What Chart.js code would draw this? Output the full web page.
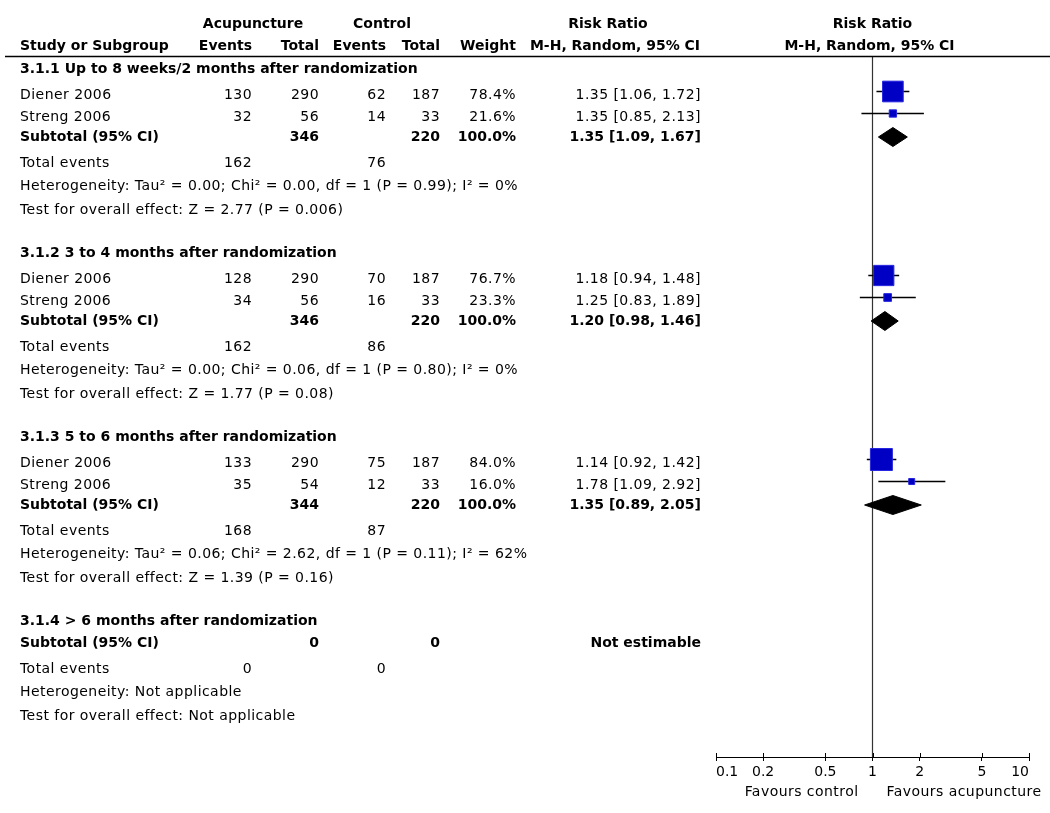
<!DOCTYPE html>
<html>
<head>
<meta charset="utf-8">
<title>Acupuncture vs control - Risk Ratio</title>
<script src="https://cdn.jsdelivr.net/npm/chart.js@4.4.1/dist/chart.umd.min.js"></script>
<style>
    html, body { margin: 0; padding: 0; background: #fff; }
    #wrap { width: 1050px; height: 813px; }
</style>
</head>
<body>
<div id="wrap"><canvas id="forest" width="1050" height="813"></canvas></div>
<script>
// Data
const groupTitles = [
    "3.1.1 Up to 8 weeks/2 months after randomization",
    "3.1.2 3 to 4 months after randomization",
    "3.1.3 5 to 6 months after randomization",
    "3.1.4 > 6 months after randomization"
];
const studyNames = [["Diener 2006", "Streng 2006"], ["Diener 2006", "Streng 2006"], ["Diener 2006", "Streng 2006"], []];
const acuEvents = [[130, 32], [128, 34], [133, 35], []];
const acuTotal = [[290, 56], [290, 56], [290, 54], []];
const ctrlEvents = [[62, 14], [70, 16], [75, 12], []];
const ctrlTotal = [[187, 33], [187, 33], [187, 33], []];
const weights = [[78.4, 21.6], [76.7, 23.3], [84.0, 16.0], []];
const rr = [[1.35, 1.35], [1.18, 1.25], [1.14, 1.78], []];
const ciLow = [[1.06, 0.85], [0.94, 0.83], [0.92, 1.09], []];
const ciHigh = [[1.72, 2.13], [1.48, 1.89], [1.42, 2.92], []];
const subRR = [1.35, 1.20, 1.35, null];
const subLow = [1.09, 0.98, 0.89, null];
const subHigh = [1.67, 1.46, 2.05, null];
const subAcuTotal = [346, 346, 344, 0];
const subCtrlTotal = [220, 220, 220, 0];
const totAcuEvents = [162, 162, 168, 0];
const totCtrlEvents = [76, 86, 87, 0];
const heterogeneity = [
    "Tau² = 0.00; Chi² = 0.00, df = 1 (P = 0.99); I² = 0%",
    "Tau² = 0.00; Chi² = 0.06, df = 1 (P = 0.80); I² = 0%",
    "Tau² = 0.06; Chi² = 2.62, df = 1 (P = 0.11); I² = 62%",
    "Not applicable"
];
const overallEffect = ["Z = 2.77 (P = 0.006)", "Z = 1.77 (P = 0.08)", "Z = 1.39 (P = 0.16)", "Not applicable"];
const xTicks = [0.1, 0.2, 0.5, 1, 2, 5, 10];
const favourLabels = ["Favours control", "Favours acupuncture"];

// Row layout: y values are pixels below the header rule
const GROUP_START = 11.5;
const GROUP_STEP = 184;
const MARK_SHIFT = -3;
const TEXT_SHIFT = 1;
const DIAMOND_HALF = 9.5;

function rowsFor(g) {
    const top = GROUP_START + g * GROUP_STEP;
    const n = rr[g].length;
    const studies = rr[g].map((_, i) => top + 26 + 22 * i);
    const subtotal = top + 22 + 23 * n;
    return { heading: top, studies, subtotal, total: subtotal + 26, het: subtotal + 49, test: subtotal + 73 };
}
const rows = groupTitles.map((_, g) => rowsFor(g));

const fmtCI = (m, lo, hi) => m.toFixed(2) + " [" + lo.toFixed(2) + ", " + hi.toFixed(2) + "]";

// datasets
const datasets = [];

datasets.push({
    data: [{ x: 1, y: 0 }, { x: 1, y: 700 }],
    borderColor: "#333",
    borderWidth: 1.2,
    pointRadius: 0,
    order: 10
});

const whiskerData = [];
const squareData = [];
const squareSize = [];
rr.forEach((arr, g) => arr.forEach((v, i) => {
    const yy = rows[g].studies[i] + MARK_SHIFT;
    whiskerData.push({ x: ciLow[g][i], y: yy }, { x: ciHigh[g][i], y: yy }, { x: null, y: null });
    squareData.push({ x: v, y: yy });
    squareSize.push((2.24 + 0.235 * weights[g][i]) / Math.SQRT2);
}));

datasets.push({
    data: whiskerData,
    borderColor: "#000",
    borderWidth: 1.4,
    pointRadius: 0,
    spanGaps: false,
    order: 5
});

datasets.push({
    data: squareData,
    showLine: false,
    pointStyle: "rect",
    pointRadius: squareSize,
    pointBackgroundColor: "#0000c4",
    pointBorderColor: "#2626e0",
    pointBorderWidth: 1,
    order: 1
});

subRR.forEach((m, g) => {
    if (m === null) return;
    const yc = rows[g].subtotal + 0.5;
    [-DIAMOND_HALF, DIAMOND_HALF].forEach(h => {
        datasets.push({
            data: [{ x: subLow[g], y: yc }, { x: m, y: yc + h }, { x: subHigh[g], y: yc }],
            borderColor: "#000",
            borderWidth: 1,
            backgroundColor: "#000",
            pointRadius: 0,
            fill: { value: yc },
            order: 3
        });
    });
});

// table text drawn around the plot
const COL = { name: 20, acuEv: 252, acuTot: 319, ctrlEv: 386, ctrlTot: 440, weight: 516, rr: 701 };

function txt(ctx, s, x, y, align, bold) {
    ctx.font = (bold ? "bold " : "") + "14px 'DejaVu Sans'";
    ctx.letterSpacing = bold ? "0px" : "0.45px";
    ctx.textAlign = align;
    ctx.fillText(String(s), x, y + TEXT_SHIFT);
}

const tablePlugin = {
    id: "forestTable",
    afterDraw(chart) {
        const ctx = chart.ctx;
        const ys = chart.scales.y;
        const xs = chart.scales.x;
        const py = v => ys.getPixelForValue(v);
        ctx.save();
        ctx.fillStyle = "#000";
        ctx.textBaseline = "middle";

        // column headers
        const h1 = py(-34), h2 = py(-12);
        const mid = (xs.left + xs.right) / 2;
        txt(ctx, "Acupuncture", 253, h1, "center", true);
        txt(ctx, "Control", 382, h1, "center", true);
        txt(ctx, "Risk Ratio", 608, h1, "center", true);
        txt(ctx, "Risk Ratio", mid, h1, "center", true);
        txt(ctx, "Study or Subgroup", COL.name, h2, "left", true);
        txt(ctx, "Events", COL.acuEv, h2, "right", true);
        txt(ctx, "Total", COL.acuTot, h2, "right", true);
        txt(ctx, "Events", COL.ctrlEv, h2, "right", true);
        txt(ctx, "Total", COL.ctrlTot, h2, "right", true);
        txt(ctx, "Weight", COL.weight, h2, "right", true);
        txt(ctx, "M-H, Random, 95% CI", 615, h2, "center", true);
        txt(ctx, "M-H, Random, 95% CI", mid - 3, h2, "center", true);

        ctx.strokeStyle = "#000";
        ctx.lineWidth = 1.5;
        ctx.beginPath();
        ctx.moveTo(5, py(0) - 0.5);
        ctx.lineTo(1050, py(0) - 0.5);
        ctx.stroke();

        // upper half of the axis ticks
        ctx.lineWidth = 1;
        ctx.beginPath();
        xTicks.forEach(v => {
            const tx = Math.round(xs.getPixelForValue(v)) + 0.5;
            ctx.moveTo(tx, xs.top - 4);
            ctx.lineTo(tx, xs.top);
        });
        ctx.stroke();

        groupTitles.forEach((title, g) => {
            const r = rows[g];
            txt(ctx, title, COL.name, py(r.heading), "left", true);
            studyNames[g].forEach((name, i) => {
                const y = py(r.studies[i]);
                txt(ctx, name, COL.name, y, "left");
                txt(ctx, acuEvents[g][i], COL.acuEv, y, "right");
                txt(ctx, acuTotal[g][i], COL.acuTot, y, "right");
                txt(ctx, ctrlEvents[g][i], COL.ctrlEv, y, "right");
                txt(ctx, ctrlTotal[g][i], COL.ctrlTot, y, "right");
                txt(ctx, weights[g][i].toFixed(1) + "%", COL.weight, y, "right");
                txt(ctx, fmtCI(rr[g][i], ciLow[g][i], ciHigh[g][i]), COL.rr, y, "right");
            });
            const ys2 = py(r.subtotal);
            txt(ctx, "Subtotal (95% CI)", COL.name, ys2, "left", true);
            txt(ctx, subAcuTotal[g], COL.acuTot, ys2, "right", true);
            txt(ctx, subCtrlTotal[g], COL.ctrlTot, ys2, "right", true);
            if (subRR[g] !== null) {
                const w = weights[g].reduce((a, b) => a + b, 0);
                txt(ctx, w.toFixed(1) + "%", COL.weight, ys2, "right", true);
                txt(ctx, fmtCI(subRR[g], subLow[g], subHigh[g]), COL.rr, ys2, "right", true);
            } else {
                txt(ctx, "Not estimable", COL.rr, ys2, "right", true);
            }
            txt(ctx, "Total events", COL.name, py(r.total), "left");
            txt(ctx, totAcuEvents[g], COL.acuEv, py(r.total), "right");
            txt(ctx, totCtrlEvents[g], COL.ctrlEv, py(r.total), "right");
            txt(ctx, "Heterogeneity: " + heterogeneity[g], COL.name, py(r.het), "left");
            txt(ctx, "Test for overall effect: " + overallEffect[g], COL.name, py(r.test), "left");
        });

        // favours labels either side of the line of no effect
        const x1 = xs.getPixelForValue(1);
        const fy = xs.top + 34;
        txt(ctx, favourLabels[0], x1 - 14, fy, "right");
        txt(ctx, favourLabels[1], x1 + 14, fy, "left");
        ctx.restore();
    }
};

Chart.defaults.font.family = "'DejaVu Sans'";
Chart.defaults.color = "#000";

new Chart(document.getElementById("forest"), {
    type: "line",
    data: { datasets },
    options: {
        responsive: false,
        animation: false,
        events: [],
        layout: { padding: { left: 716, right: 21, top: 57, bottom: 26 } },
        plugins: { legend: { display: false }, tooltip: { enabled: false } },
        elements: { line: { tension: 0 } },
        scales: {
            x: {
                type: "logarithmic",
                min: 0.1,
                max: 10,
                afterBuildTicks: s => { s.ticks = xTicks.map(v => ({ value: v })); },
                afterFit: s => { s.height = 30; },
                ticks: {
                    autoSkip: false,
                    maxRotation: 0,
                    align: "inner",
                    padding: 3,
                    font: { size: 14 },
                    color: "#000",
                    callback: v => String(v)
                },
                grid: { drawOnChartArea: false, drawTicks: true, tickLength: 4, color: "#000" },
                border: { display: true, color: "#000", width: 1 }
            },
            y: {
                type: "linear",
                display: false,
                reverse: true,
                min: 0,
                max: 700
            }
        }
    },
    plugins: [tablePlugin]
});
</script>
</body>
</html>
